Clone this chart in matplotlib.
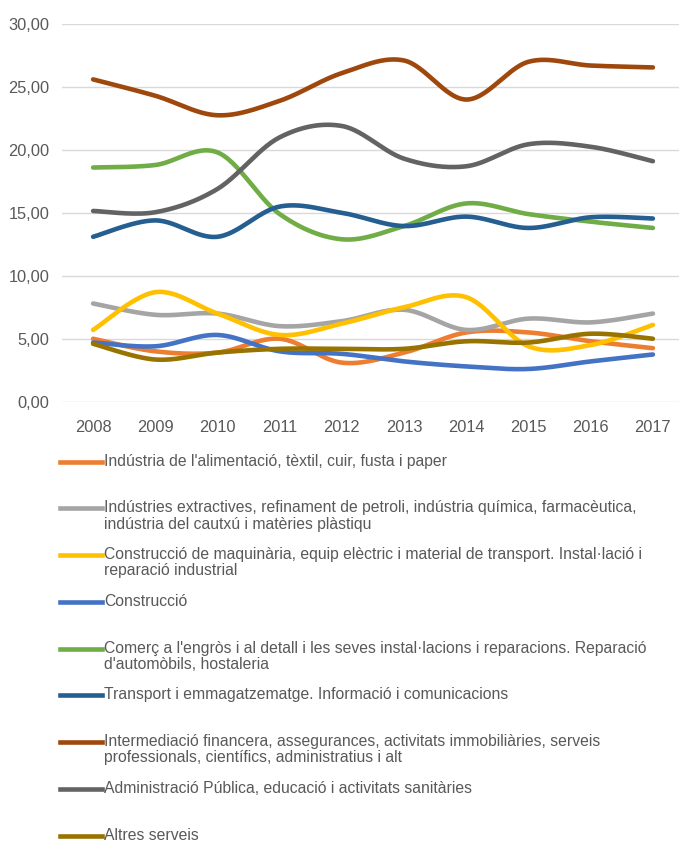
import numpy as np
import matplotlib
matplotlib.use("Agg")
import matplotlib.pyplot as plt
from matplotlib.lines import Line2D

plt.rcParams['font.family'] = ['Liberation Sans', 'DejaVu Sans']

# Data
years = [2008, 2009, 2010, 2011, 2012, 2013, 2014, 2015, 2016, 2017]

alimentacio = [5.0, 4.0, 3.9, 5.0, 3.1, 3.9, 5.5, 5.5, 4.8, 4.25]
extractives = [7.8, 6.9, 7.0, 6.0, 6.4, 7.3, 5.7, 6.6, 6.3, 7.0]
maquinaria = [5.7, 8.7, 7.0, 5.3, 6.2, 7.5, 8.3, 4.4, 4.5, 6.1]
construccio = [4.7, 4.4, 5.3, 4.0, 3.8, 3.2, 2.8, 2.6, 3.2, 3.75]
comerc = [18.6, 18.8, 19.8, 14.9, 12.9, 13.95, 15.75, 14.9, 14.3, 13.8]
transport = [13.1, 14.4, 13.1, 15.5, 15.0, 13.95, 14.7, 13.8, 14.65, 14.55]
intermediacio = [25.6, 24.3, 22.75, 23.9, 26.1, 27.1, 24.0, 27.0, 26.7, 26.55]
administracio = [15.15, 15.05, 16.9, 21.0, 21.9, 19.3, 18.7, 20.45, 20.25, 19.1]
altres = [4.6, 3.35, 3.9, 4.2, 4.2, 4.2, 4.8, 4.7, 5.4, 5.0]

series = [alimentacio, extractives, maquinaria, construccio, comerc,
          transport, intermediacio, administracio, altres]

labels = [
    "Indústria de l'alimentació, tèxtil, cuir, fusta i paper",
    "Indústries extractives, refinament de petroli, indústria química, farmacèutica,\nindústria del cautxú i matèries plàstiqu",
    "Construcció de maquinària, equip elèctric i material de transport. Instal·lació i\nreparació industrial",
    "Construcció",
    "Comerç a l'engròs i al detall i les seves instal·lacions i reparacions. Reparació\nd'automòbils, hostaleria",
    "Transport i emmagatzematge. Informació i comunicacions",
    "Intermediació financera, assegurances, activitats immobiliàries, serveis\nprofessionals, científics, administratius i alt",
    "Administració Pública, educació i activitats sanitàries",
    "Altres serveis",
]

colors = ['#ED7D31', '#A5A5A5', '#FFC000', '#4472C4', '#70AD47',
          '#255E91', '#9E480E', '#636363', '#997300']

yticks = [0, 5, 10, 15, 20, 25, 30]


def smooth(x, y, n=30):
    # Catmull-Rom style bezier smoothing (like Excel "smoothed line")
    x = np.asarray(x, float)
    y = np.asarray(y, float)
    xs, ys = [], []
    m = len(x)
    for i in range(m - 1):
        p0 = np.array([x[max(i - 1, 0)], y[max(i - 1, 0)]])
        p1 = np.array([x[i], y[i]])
        p2 = np.array([x[i + 1], y[i + 1]])
        p3 = np.array([x[min(i + 2, m - 1)], y[min(i + 2, m - 1)]])
        c1 = p1 + (p2 - p0) / 6.0
        c2 = p2 - (p3 - p1) / 6.0
        t = np.linspace(0, 1, n)[:, None]
        b = ((1 - t) ** 3) * p1 + 3 * ((1 - t) ** 2) * t * c1 + 3 * (1 - t) * t ** 2 * c2 + t ** 3 * p2
        xs.extend(b[:, 0])
        ys.extend(b[:, 1])
    return np.array(xs), np.array(ys)


fig = plt.figure(figsize=(6.79, 8.44), dpi=100)
ax = fig.add_axes([62 / 679, 1 - 401.7 / 844, 622 / 679, 377.7 / 844])

for vals, c in zip(series, colors):
    sx, sy = smooth(years, vals)
    ax.plot(sx, sy, color=c, linewidth=3.3, solid_capstyle='round', zorder=3)

ax.set_xlim(2007.5, 2017.5)
ax.set_ylim(0, 30)
ax.set_yticks(yticks)
ax.set_yticklabels([("%.2f" % v).replace('.', ',') for v in yticks])
ax.set_xticks(years)
ax.set_xticklabels([str(y) for y in years])
ax.grid(axis='y', color='#D9D9D9', linewidth=1.0, zorder=0)
for s in ax.spines.values():
    s.set_visible(False)
ax.tick_params(length=0, labelsize=11.8, labelcolor='#595959')
ax.tick_params(axis='x', pad=13)
ax.tick_params(axis='y', pad=9)

# legend drawn manually as rows below the chart
for i, (lab, c) in enumerate(zip(labels, colors)):
    yy = 1 - (461.7 + i * 46.75) / 844
    fig.add_artist(Line2D([60 / 679, 102 / 679], [yy, yy], color=c, linewidth=3.3,
                          transform=fig.transFigure))
    fig.text(104 / 679, yy + 8 / 844, lab, color='#595959', fontsize=11.3,
             va='top', ha='left', linespacing=1.1)

fig.savefig("out.png", dpi=100)
